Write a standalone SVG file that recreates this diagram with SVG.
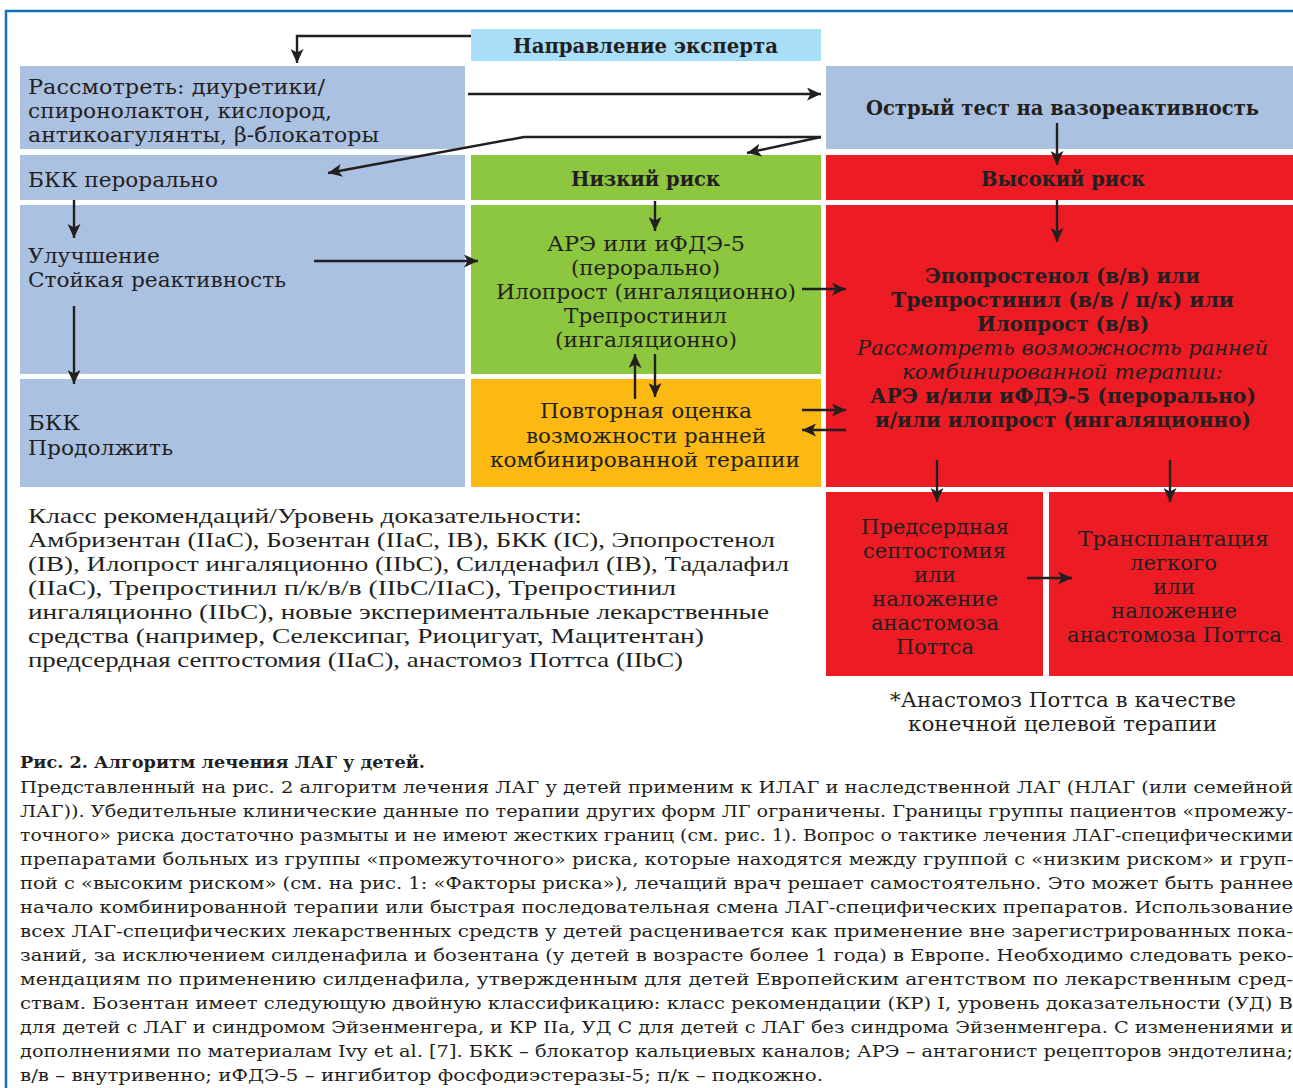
<svg xmlns="http://www.w3.org/2000/svg" width="1293" height="1088" viewBox="0 0 1293 1088">
<defs>
<style>
.bg{fill:#ffffff}
.frame{fill:none;stroke:#1472BD;stroke-width:2.5}
.gray{fill:#ABC1E2}
.sky{fill:#A9DEF8}
.green{fill:#8DC63F}
.orange{fill:#FDB913}
.red{fill:#ED1C24}
text{font-family:"DejaVu Serif","Liberation Serif",serif;fill:#231F20;font-size:20px}
.b{font-weight:bold}
.i{font-style:italic}
.leg{font-family:"Liberation Serif","DejaVu Serif",serif;font-size:21px}
.cap{font-size:17px}
.conn{fill:none;stroke:#231F20;stroke-width:2.4}
</style>
<marker id="ah" markerUnits="userSpaceOnUse" markerWidth="15" markerHeight="13" refX="14" refY="6.5" orient="auto">
<path d="M0,0 L14,6.5 L0,13 L3.5,6.5 Z" fill="#231F20"/>
</marker>
</defs>
<rect class="bg" x="0" y="0" width="1293" height="1088"/>
<path class="frame" d="M6,1100 V11 H1300"/>

<g id="n-expert">
<rect class="sky" x="471" y="29" width="350" height="32"/>
<text class="b" x="513" y="53" textLength="265" lengthAdjust="spacingAndGlyphs">Направление эксперта</text>
</g>
<g id="n-consider">
<rect class="gray" x="20" y="66" width="445" height="83"/>
<text x="28" y="94" textLength="297" lengthAdjust="spacingAndGlyphs">Рассмотреть: диуретики/</text>
<text x="28" y="118" textLength="304" lengthAdjust="spacingAndGlyphs">спиронолактон, кислород,</text>
<text x="28" y="142" textLength="351" lengthAdjust="spacingAndGlyphs">антикоагулянты, β-блокаторы</text>
</g>
<g id="n-acute">
<rect class="gray" x="826" y="66" width="467" height="83"/>
<text class="b" x="866" y="115" textLength="393" lengthAdjust="spacingAndGlyphs">Острый тест на вазореактивность</text>
</g>
<g id="n-bkk-oral">
<rect class="gray" x="20" y="155" width="445" height="45"/>
<text x="28" y="187" textLength="190" lengthAdjust="spacingAndGlyphs">БКК перорально</text>
</g>
<g id="n-low-risk">
<rect class="green" x="471" y="155" width="350" height="45"/>
<text class="b" x="571" y="186" textLength="149" lengthAdjust="spacingAndGlyphs">Низкий риск</text>
</g>
<g id="n-high-risk">
<rect class="red" x="826" y="155" width="467" height="45"/>
<text class="b" x="981" y="186" textLength="164" lengthAdjust="spacingAndGlyphs">Высокий риск</text>
</g>
<g id="n-improve">
<rect class="gray" x="20" y="205" width="445" height="169"/>
<text x="28" y="263" textLength="132" lengthAdjust="spacingAndGlyphs">Улучшение</text>
<text x="28" y="287" textLength="258" lengthAdjust="spacingAndGlyphs">Стойкая реактивность</text>
</g>
<g id="n-low-therapy">
<rect class="green" x="471" y="205" width="350" height="169"/>
<text x="547" y="251" textLength="198" lengthAdjust="spacingAndGlyphs">АРЭ или иФДЭ-5</text>
<text x="571" y="275" textLength="149" lengthAdjust="spacingAndGlyphs">(перорально)</text>
<text x="496" y="299" textLength="300" lengthAdjust="spacingAndGlyphs">Илопрост (ингаляционно)</text>
<text x="564" y="323" textLength="163" lengthAdjust="spacingAndGlyphs">Трепростинил</text>
<text x="555" y="347" textLength="182" lengthAdjust="spacingAndGlyphs">(ингаляционно)</text>
</g>
<g id="n-high-therapy">
<rect class="red" x="826" y="205" width="467" height="282"/>
<text class="b" x="925" y="283" textLength="275" lengthAdjust="spacingAndGlyphs">Эпопростенол (в/в) или</text>
<text class="b" x="891" y="307" textLength="343" lengthAdjust="spacingAndGlyphs">Трепростинил (в/в / п/к) или</text>
<text class="b" x="977" y="331" textLength="172" lengthAdjust="spacingAndGlyphs">Илопрост (в/в)</text>
<text class="i" x="857" y="355" textLength="411" lengthAdjust="spacingAndGlyphs">Рассмотреть возможность ранней</text>
<text class="i" x="902" y="379" textLength="321" lengthAdjust="spacingAndGlyphs">комбинированной терапии:</text>
<text class="b" x="870" y="403" textLength="386" lengthAdjust="spacingAndGlyphs">АРЭ и/или иФДЭ-5 (перорально)</text>
<text class="b" x="875" y="427" textLength="376" lengthAdjust="spacingAndGlyphs">и/или илопрост (ингаляционно)</text>
</g>
<g id="n-bkk-continue">
<rect class="gray" x="20" y="379" width="445" height="108"/>
<text x="28" y="430" textLength="52" lengthAdjust="spacingAndGlyphs">БКК</text>
<text x="28" y="455" textLength="145" lengthAdjust="spacingAndGlyphs">Продолжить</text>
</g>
<g id="n-reassess">
<rect class="orange" x="471" y="379" width="350" height="108"/>
<text x="540" y="418" textLength="212" lengthAdjust="spacingAndGlyphs">Повторная оценка</text>
<text x="526" y="443" textLength="240" lengthAdjust="spacingAndGlyphs">возможности ранней</text>
<text x="490" y="467" textLength="310" lengthAdjust="spacingAndGlyphs">комбинированной терапии</text>
</g>
<g id="n-septostomy">
<rect class="red" x="826" y="492" width="217" height="184"/>
<text x="861" y="534" textLength="148" lengthAdjust="spacingAndGlyphs">Предсердная</text>
<text x="863" y="558" textLength="143" lengthAdjust="spacingAndGlyphs">септостомия</text>
<text x="914" y="582" textLength="42" lengthAdjust="spacingAndGlyphs">или</text>
<text x="872" y="606" textLength="126" lengthAdjust="spacingAndGlyphs">наложение</text>
<text x="871" y="630" textLength="128" lengthAdjust="spacingAndGlyphs">анастомоза</text>
<text x="896" y="654" textLength="78" lengthAdjust="spacingAndGlyphs">Поттса</text>
</g>
<g id="n-transplant">
<rect class="red" x="1049" y="492" width="244" height="184"/>
<text x="1078" y="546" textLength="191" lengthAdjust="spacingAndGlyphs">Трансплантация</text>
<text x="1130" y="570" textLength="87" lengthAdjust="spacingAndGlyphs">легкого</text>
<text x="1153" y="594" textLength="42" lengthAdjust="spacingAndGlyphs">или</text>
<text x="1111" y="618" textLength="126" lengthAdjust="spacingAndGlyphs">наложение</text>
<text x="1067" y="642" textLength="215" lengthAdjust="spacingAndGlyphs">анастомоза Поттса</text>
</g>
<g id="n-footnote">
<text x="890" y="707" textLength="346" lengthAdjust="spacingAndGlyphs">*Анастомоз Поттса в качестве</text>
<text x="908" y="731" textLength="309" lengthAdjust="spacingAndGlyphs">конечной целевой терапии</text>
</g>
<g id="n-legend">
<text class="leg" x="28" y="523" textLength="554" lengthAdjust="spacingAndGlyphs">Класс рекомендаций/Уровень доказательности:</text>
<text class="leg" x="28" y="547" textLength="747" lengthAdjust="spacingAndGlyphs">Амбризентан (IIaC), Бозентан (IIaC, IB), БКК (IC), Эпопростенол</text>
<text class="leg" x="28" y="571" textLength="761" lengthAdjust="spacingAndGlyphs">(IB), Илопрост ингаляционно (IIbC), Силденафил (IB), Тадалафил</text>
<text class="leg" x="28" y="595" textLength="648" lengthAdjust="spacingAndGlyphs">(IIaC), Трепростинил п/к/в/в (IIbC/IIaC), Трепростинил</text>
<text class="leg" x="28" y="619" textLength="741" lengthAdjust="spacingAndGlyphs">ингаляционно (IIbC), новые экспериментальные лекарственные</text>
<text class="leg" x="28" y="643" textLength="676" lengthAdjust="spacingAndGlyphs">средства (например, Селексипаг, Риоцигуат, Мацитентан)</text>
<text class="leg" x="28" y="667" textLength="655" lengthAdjust="spacingAndGlyphs">предсердная септостомия (IIaC), анастомоз Поттса (IIbC)</text>
</g>
<g id="n-caption">
<text class="cap b" x="20" y="768" textLength="405" lengthAdjust="spacingAndGlyphs">Рис. 2. Алгоритм лечения ЛАГ у детей.</text>
<text class="cap" x="20" y="793" textLength="1273" lengthAdjust="spacingAndGlyphs">Представленный на рис. 2 алгоритм лечения ЛАГ у детей применим к ИЛАГ и наследственной ЛАГ (НЛАГ (или семейной</text>
<text class="cap" x="20" y="817" textLength="1273" lengthAdjust="spacingAndGlyphs">ЛАГ)). Убедительные клинические данные по терапии других форм ЛГ ограничены. Границы группы пациентов «промежу-</text>
<text class="cap" x="20" y="841" textLength="1273" lengthAdjust="spacingAndGlyphs">точного» риска достаточно размыты и не имеют жестких границ (см. рис. 1). Вопрос о тактике лечения ЛАГ-специфическими</text>
<text class="cap" x="20" y="865" textLength="1273" lengthAdjust="spacingAndGlyphs">препаратами больных из группы «промежуточного» риска, которые находятся между группой с «низким риском» и груп-</text>
<text class="cap" x="20" y="889" textLength="1273" lengthAdjust="spacingAndGlyphs">пой с «высоким риском» (см. на рис. 1: «Факторы риска»), лечащий врач решает самостоятельно. Это может быть раннее</text>
<text class="cap" x="20" y="913" textLength="1273" lengthAdjust="spacingAndGlyphs">начало комбинированной терапии или быстрая последовательная смена ЛАГ-специфических препаратов. Использование</text>
<text class="cap" x="20" y="937" textLength="1273" lengthAdjust="spacingAndGlyphs">всех ЛАГ-специфических лекарственных средств у детей расценивается как применение вне зарегистрированных пока-</text>
<text class="cap" x="20" y="961" textLength="1273" lengthAdjust="spacingAndGlyphs">заний, за исключением силденафила и бозентана (у детей в возрасте более 1 года) в Европе. Необходимо следовать реко-</text>
<text class="cap" x="20" y="985" textLength="1273" lengthAdjust="spacingAndGlyphs">мендациям по применению силденафила, утвержденным для детей Европейским агентством по лекарственным сред-</text>
<text class="cap" x="20" y="1009" textLength="1273" lengthAdjust="spacingAndGlyphs">ствам. Бозентан имеет следующую двойную классификацию: класс рекомендации (КР) I, уровень доказательности (УД) B</text>
<text class="cap" x="20" y="1033" textLength="1273" lengthAdjust="spacingAndGlyphs">для детей с ЛАГ и синдромом Эйзенменгера, и КР IIa, УД С для детей с ЛАГ без синдрома Эйзенменгера. С изменениями и</text>
<text class="cap" x="20" y="1057" textLength="1273" lengthAdjust="spacingAndGlyphs">дополнениями по материалам Ivy et al. [7]. БКК – блокатор кальциевых каналов; АРЭ – антагонист рецепторов эндотелина;</text>
<text class="cap" x="20" y="1081" textLength="803" lengthAdjust="spacingAndGlyphs">в/в – внутривенно; иФДЭ-5 – ингибитор фосфодиэстеразы-5; п/к – подкожно.</text>
</g>

<g id="connectors">
<path class="conn" marker-end="url(#ah)" d="M471,36 H297 V63"/>
<path class="conn" marker-end="url(#ah)" d="M468,94 H821"/>
<path class="conn" marker-end="url(#ah)" d="M821,137 H524 L328,173"/>
<path class="conn" marker-end="url(#ah)" d="M821,137 L747,153"/>
<path class="conn" marker-end="url(#ah)" d="M1057,123 V165"/>
<path class="conn" marker-end="url(#ah)" d="M1057,200 V242"/>
<path class="conn" marker-end="url(#ah)" d="M655,201 V231"/>
<path class="conn" marker-end="url(#ah)" d="M74,200 V238"/>
<path class="conn" marker-end="url(#ah)" d="M74,306 V384"/>
<path class="conn" marker-end="url(#ah)" d="M314,261 H478"/>
<path class="conn" marker-end="url(#ah)" d="M802,289 H846"/>
<path class="conn" marker-end="url(#ah)" d="M635,399 V354"/>
<path class="conn" marker-end="url(#ah)" d="M655,354 V397"/>
<path class="conn" marker-end="url(#ah)" d="M802,410 H846"/>
<path class="conn" marker-end="url(#ah)" d="M846,430 H802"/>
<path class="conn" marker-end="url(#ah)" d="M937,460 V502"/>
<path class="conn" marker-end="url(#ah)" d="M1170,460 V502"/>
<path class="conn" marker-end="url(#ah)" d="M1027,578 H1072"/>
</g>
</svg>
